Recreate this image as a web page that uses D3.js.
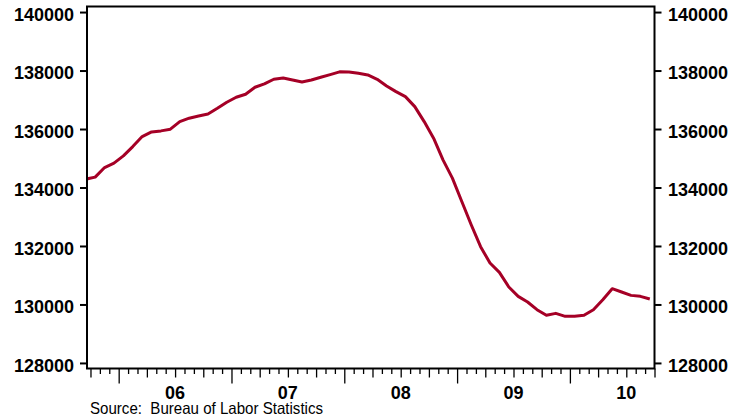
<!DOCTYPE html>
<html>
<head>
<meta charset="utf-8">
<script src="https://cdn.jsdelivr.net/npm/d3@7"></script>
<style>
  html, body { margin: 0; padding: 0; background: #fff; }
  svg { display: block; }
  text { font-family: "Liberation Sans", Arial, sans-serif; }
</style>
</head>
<body>
<svg id="chart" width="735" height="418"></svg>
<script>
// ---- Data (thousands of jobs, seasonally adjusted) ----
const months = [
  "2005-09","2005-10","2005-11","2005-12",
  "2006-01","2006-02","2006-03","2006-04","2006-05","2006-06","2006-07","2006-08","2006-09","2006-10","2006-11","2006-12",
  "2007-01","2007-02","2007-03","2007-04","2007-05","2007-06","2007-07","2007-08","2007-09","2007-10","2007-11","2007-12",
  "2008-01","2008-02","2008-03","2008-04","2008-05","2008-06","2008-07","2008-08","2008-09","2008-10","2008-11","2008-12",
  "2009-01","2009-02","2009-03","2009-04","2009-05","2009-06","2009-07","2009-08","2009-09","2009-10","2009-11","2009-12",
  "2010-01","2010-02","2010-03","2010-04","2010-05","2010-06","2010-07","2010-08","2010-09"
];
const employment = [
  134286,134354,134682,134833,
  135082,135400,135742,135902,135936,135994,136254,136370,136448,136516,136711,136916,
  137087,137189,137428,137541,137701,137746,137678,137609,137678,137770,137859,137955,
  137951,137906,137848,137701,137473,137278,137108,136766,136254,135686,134945,134320,
  133521,132725,131975,131417,131096,130598,130277,130085,129822,129628,129696,129594,
  129594,129628,129822,130164,130540,130427,130311,130277,130188
];
const yTicks = [128000,130000,132000,134000,136000,138000,140000];
const yearLabels = ["06","07","08","09","10"];
const yearStarts = ["2006-01","2007-01","2008-01","2009-01","2010-01"];
const sourceNote = "Source:  Bureau of Labor Statistics";

// month index: Jan 2006 = 0
const mIndex = s => { const [yy, mm] = s.split("-").map(Number); return (yy - 2006) * 12 + (mm - 1); };
const data = months.map((m, i) => ({ m: mIndex(m), v: employment[i] }));

const svg = d3.select("#chart");
const L = 87, R = 654.5, T = 6.5, B = 368.5;

const x = d3.scaleLinear().domain([-3.37, 57]).range([L, R]);
const y = d3.scaleLinear().domain([127810, 140190]).range([B, T]);

const font = "Liberation Sans, Arial, sans-serif";

// clip
svg.append("defs").append("clipPath").attr("id", "plotclip")
  .append("rect").attr("x", L).attr("y", T).attr("width", R - L).attr("height", B - T);

// line
const line = d3.line().x(d => x(d.m + 0.5)).y(d => y(d.v));
svg.append("path").datum(data)
  .attr("clip-path", "url(#plotclip)")
  .attr("fill", "none")
  .attr("stroke", "#A50026")
  .attr("stroke-width", 3)
  .attr("stroke-linejoin", "round")
  .attr("d", line);

// frame
svg.append("rect").attr("x", L).attr("y", T).attr("width", R - L).attr("height", B - T)
  .attr("fill", "none").attr("stroke", "#000").attr("stroke-width", 2);

// y axes
function styleY(g) {
  g.select(".domain").remove();
  g.selectAll(".tick line").attr("stroke", "#000").attr("stroke-width", 2);
  g.selectAll(".tick text").attr("font-family", font).attr("font-size", 18)
    .attr("font-weight", "bold").attr("fill", "#000").attr("dy", "0.45em");
}
svg.append("g").attr("transform", `translate(${L},0)`)
  .call(d3.axisLeft(y).tickValues(yTicks).tickSize(7).tickPadding(6).tickFormat(d3.format("d")))
  .call(styleY);
svg.append("g").attr("transform", `translate(${R},0)`)
  .call(d3.axisRight(y).tickValues(yTicks).tickSize(7).tickPadding(6.5).tickFormat(d3.format("d")))
  .call(styleY);

// x ticks: monthly minor, quarterly medium, yearly major
const allMonths = d3.range(-3, 58);
const yearT = allMonths.filter(m => ((m % 12) + 12) % 12 === 0);
const qT = allMonths.filter(m => ((m % 3) + 3) % 3 === 0 && !yearT.includes(m));
const mT = allMonths.filter(m => ((m % 3) + 3) % 3 !== 0);
function xTicks(vals, size) {
  svg.append("g").attr("transform", `translate(0,${B})`)
    .call(d3.axisBottom(x).tickValues(vals).tickSize(size).tickFormat(""))
    .call(g => {
      g.select(".domain").remove();
      g.selectAll(".tick line").attr("stroke", "#000").attr("stroke-width", 1.3);
    });
}
xTicks(mT, 5.5);
xTicks(qT, 9);
xTicks(yearT, 15);

// year labels centred on each year
svg.append("g").selectAll("text").data(yearLabels).join("text")
  .attr("x", (d, i) => x(mIndex(yearStarts[i]) + 6))
  .attr("y", 398.5)
  .attr("text-anchor", "middle")
  .attr("font-family", font).attr("font-size", 18).attr("font-weight", "bold")
  .text(d => d);

// source note
svg.append("text")
  .attr("x", 90).attr("y", 413.5)
  .attr("font-family", font).attr("font-size", 16.5)
  .attr("textLength", 233).attr("lengthAdjust", "spacingAndGlyphs")
  .style("white-space", "pre")
  .text(sourceNote);
</script>
</body>
</html>
